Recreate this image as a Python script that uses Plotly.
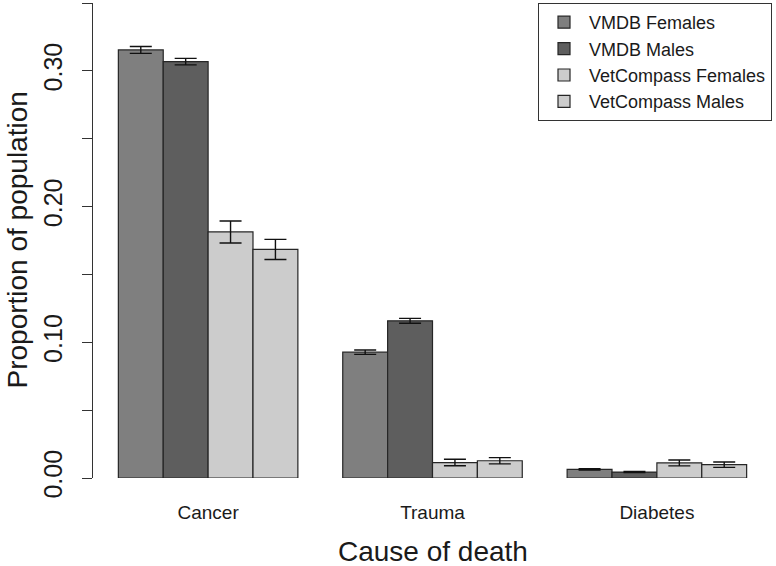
import plotly.graph_objects as go

categories = ["Cancer", "Trauma", "Diabetes"]
series_names = ["VMDB Females", "VMDB Males", "VetCompass Females", "VetCompass Males"]
vmdb_females = [0.3154, 0.0927, 0.0064]
vmdb_males = [0.3068, 0.1158, 0.0044]
vc_females = [0.1813, 0.0114, 0.0111]
vc_males = [0.1684, 0.0127, 0.0098]
err_vmdb_females = [0.0025, 0.0016, 0.0005]
err_vmdb_males = [0.0024, 0.0018, 0.0004]
err_vc_females = [0.0081, 0.0024, 0.0022]
err_vc_males = [0.0074, 0.0023, 0.0020]
y_tickvals = [0.0, 0.05, 0.10, 0.15, 0.20, 0.25, 0.30, 0.35]
y_ticktext = ["0.00", "", "0.10", "", "0.20", "", "0.30", ""]

values = [vmdb_females, vmdb_males, vc_females, vc_males]
errors = [err_vmdb_females, err_vmdb_males, err_vc_females, err_vc_males]
colors = ["#7f7f7f", "#5e5e5e", "#cccccc", "#cccccc"]

FONT = "Liberation Sans, Arial, Helvetica, sans-serif"

fig = go.Figure()
for name, vals, errs, col in zip(series_names, values, errors, colors):
    fig.add_trace(go.Bar(
        x=categories, y=vals, name=name,
        marker=dict(color=col, line=dict(color="#262626", width=1.2)),
        error_y=dict(type="data", array=errs, visible=True, color="#111111",
                     thickness=1.4, width=11),
    ))

fig.update_layout(
    width=776, height=566,
    margin=dict(l=93, r=4, t=3, b=88, autoexpand=False),
    paper_bgcolor="white", plot_bgcolor="white",
    barmode="group", bargap=0.2, bargroupgap=0,
    font=dict(family=FONT, color="#1a1a1a"),
    showlegend=True,
    legend=dict(x=1, y=1, xanchor="right", yanchor="top",
                bordercolor="#333333", borderwidth=1, bgcolor="white",
                font=dict(size=18, family=FONT, color="#1a1a1a"),
                tracegroupgap=0, itemwidth=40),
    xaxis=dict(type="category", range=[-0.513, 2.513], showline=False,
               ticks="", showgrid=False, zeroline=False, automargin=False,
               tickfont=dict(size=19, family=FONT, color="#1a1a1a"),
               ticklabelstandoff=21),
    yaxis=dict(range=[0, 0.35], tickvals=y_tickvals, ticktext=y_ticktext,
               showline=True, linecolor="#333333", linewidth=1.2,
               ticks="outside", ticklen=10, tickcolor="#333333", tickwidth=1.2,
               showgrid=False, zeroline=False, tickangle=-90, automargin=False,
               ticklabelstandoff=10,
               tickfont=dict(size=25, family=FONT, color="#1a1a1a")),
    annotations=[
        dict(text="Cause of death", xref="paper", yref="paper", x=0.5, y=0,
             xanchor="center", yanchor="middle", yshift=-73, showarrow=False,
             font=dict(size=28, family=FONT, color="#1a1a1a")),
        dict(text="Proportion of population", xref="paper", yref="paper",
             x=0, y=0.5, xanchor="center", yanchor="middle", xshift=-76,
             textangle=-90, showarrow=False,
             font=dict(size=28, family=FONT, color="#1a1a1a")),
    ],
)

fig.write_html("out.html", config={"displayModeBar": False},
               post_script="document.body.style.margin='0';document.body.style.overflow='hidden';")
